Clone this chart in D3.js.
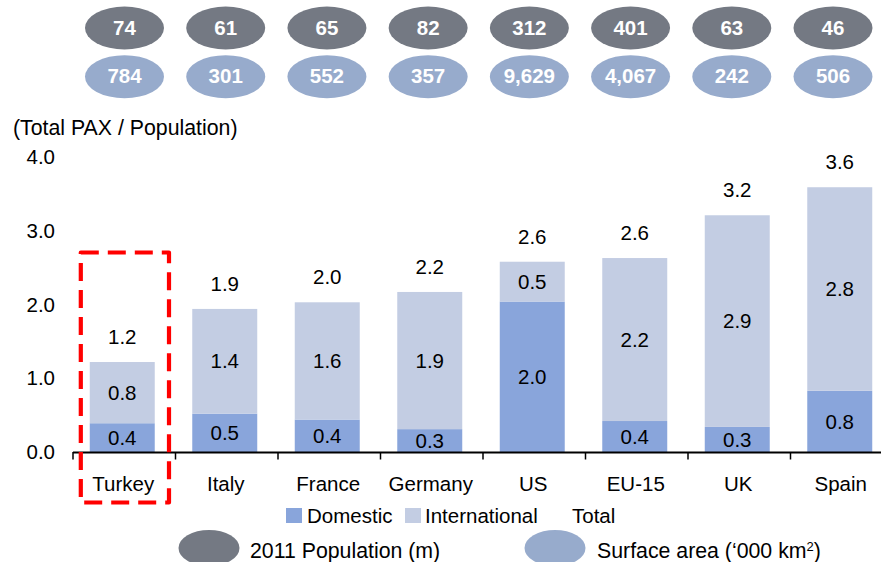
<!DOCTYPE html>
<html>
<head>
<meta charset="utf-8">
<script src="https://cdn.jsdelivr.net/npm/d3@7"></script>
<style>
  html, body { margin: 0; padding: 0; background: #fff; }
  svg text { font-family: "Liberation Sans", Arial, sans-serif; }
</style>
</head>
<body>
<svg id="chart" width="881" height="562"></svg>
<script>
// Air passengers per inhabitant, by market
const categories = ["Turkey", "Italy", "France", "Germany", "US", "EU-15", "UK", "Spain"];
const domestic = [0.39, 0.52, 0.44, 0.31, 2.04, 0.42, 0.34, 0.83];
const international = [0.83, 1.42, 1.59, 1.86, 0.54, 2.21, 2.87, 2.76];
const population = [74, 61, 65, 82, 312, 401, 63, 46];        // 2011, millions
const surfaceArea = [784, 301, 552, 357, 9629, 4067, 242, 506]; // '000 km2
const yTicks = [0, 1, 2, 3, 4];

const colDomestic = "#89a5db";
const colInternational = "#c3cde3";
const colPopulation = "#747983";
const colArea = "#97abcc";
const fs = "20.5px";

const svg = d3.select("#chart");

const rows = categories.map((c, i) => ({
  cat: c, domestic: domestic[i], international: international[i]
}));
const stack = d3.stack().keys(["domestic", "international"])(rows);

// scales
const xCell = d3.scaleBand().domain(categories).range([72, 892]).padding(0);
const x = d3.scaleBand().domain(categories).range([71, 891])
  .paddingInner(0.366).paddingOuter(0.183);
const y = d3.scaleLinear().domain([0, 4]).range([452, 157]);
const xBubble = d3.scalePoint().domain(categories).range([124.5, 833]);
const fmt1 = d3.format(".1f");
const fmtInt = d3.format(",");

// top bubbles: population and surface area
const bubbles = svg.append("g");
[[population, colPopulation, 28], [surfaceArea, colArea, 76.7]].forEach(([vals, col, cy]) => {
  const g = bubbles.selectAll(null).data(categories).enter().append("g")
    .attr("transform", d => `translate(${xBubble(d)},${cy})`);
  g.append("ellipse").attr("rx", 39.5).attr("ry", 21.5).attr("fill", col);
  g.append("text").attr("text-anchor", "middle").attr("dy", "0.35em").attr("y", -0.5)
    .attr("fill", "#fff").attr("font-weight", "bold").attr("font-size", fs)
    .text((d, i) => fmtInt(vals[i]));
});

// y axis title
svg.append("text").attr("x", 13).attr("y", 135).attr("font-size", "21.3px")
  .attr("fill", "#000").text("(Total PAX / Population)");

// y tick labels (no axis line)
svg.append("g").selectAll("text").data(yTicks).enter().append("text")
  .attr("x", 55).attr("y", d => y(d)).attr("dy", "0.35em")
  .attr("text-anchor", "end").attr("font-size", fs).attr("fill", "#000")
  .text(d => fmt1(d));

// stacked bars
const colors = [colDomestic, colInternational];
const layers = svg.append("g").selectAll("g").data(stack).enter().append("g")
  .attr("fill", (d, i) => colors[i]);
layers.selectAll("rect").data(d => d).enter().append("rect")
  .attr("x", d => x(d.data.cat)).attr("width", x.bandwidth())
  .attr("y", d => y(d[1])).attr("height", d => y(d[0]) - y(d[1]));

// segment value labels
layers.selectAll("text").data(d => d.map(s => ({ s, key: d.key }))).enter().append("text")
  .attr("x", d => x(d.s.data.cat) + x.bandwidth() / 2)
  .attr("y", d => (y(d.s[0]) + y(d.s[1])) / 2).attr("dy", "0.35em")
  .attr("text-anchor", "middle").attr("font-size", fs).attr("fill", "#000")
  .text(d => fmt1(d.s.data[d.key]));

// totals above the bars
svg.append("g").selectAll("text").data(rows).enter().append("text")
  .attr("x", d => x(d.cat) + x.bandwidth() / 2)
  .attr("y", d => y(d.domestic + d.international) - 18)
  .attr("text-anchor", "middle").attr("font-size", fs).attr("fill", "#000")
  .text(d => fmt1(d.domestic + d.international));

// x axis
const xAxis = svg.append("g");
xAxis.append("line").attr("x1", 73).attr("x2", 881).attr("y1", y(0) + 0.5).attr("y2", y(0) + 0.5)
  .attr("stroke", "#000").attr("stroke-width", 2);
xAxis.selectAll("line.tick").data(categories).enter().append("line").attr("class", "tick")
  .attr("x1", d => xCell(d) + 1).attr("x2", d => xCell(d) + 1)
  .attr("y1", y(0)).attr("y2", y(0) + 7.5)
  .attr("stroke", "#000").attr("stroke-width", 1.5);
xAxis.selectAll("text").data(categories).enter().append("text")
  .attr("x", d => xCell(d) + xCell.bandwidth() / 2).attr("y", 490.5)
  .attr("text-anchor", "middle").attr("font-size", fs).attr("fill", "#000")
  .text(d => d);

// highlight box around Turkey
const hx0 = xCell("Turkey") + 8.8, hx1 = xCell("Turkey") + 97;
svg.append("path")
  .attr("d", `M${hx0},${252.5}H${hx1}V${502.5}H${hx0}Z`)
  .attr("fill", "none").attr("stroke", "#ff0000").attr("stroke-width", 4.2)
  .attr("stroke-dasharray", "18,9").attr("stroke-linejoin", "round");

// legend: bar series
const leg1 = svg.append("g").attr("font-size", fs).attr("fill", "#000");
leg1.append("rect").attr("x", 286).attr("y", 508).attr("width", 16).attr("height", 15).attr("fill", colDomestic);
leg1.append("text").attr("x", 307).attr("y", 523).text("Domestic");
leg1.append("rect").attr("x", 405).attr("y", 508).attr("width", 16).attr("height", 15).attr("fill", colInternational);
leg1.append("text").attr("x", 425).attr("y", 523).text("International");
leg1.append("text").attr("x", 572).attr("y", 523).text("Total");

// legend: bubbles
const leg2 = svg.append("g").attr("font-size", "21.3px").attr("fill", "#000");
leg2.append("ellipse").attr("cx", 209).attr("cy", 548).attr("rx", 30.5).attr("ry", 18).attr("fill", colPopulation);
leg2.append("text").attr("x", 250).attr("y", 558).text("2011 Population (m)");
leg2.append("ellipse").attr("cx", 555).attr("cy", 548).attr("rx", 30.5).attr("ry", 18).attr("fill", colArea);
const t2 = leg2.append("text").attr("x", 597).attr("y", 558);
t2.append("tspan").text("Surface area (\u2018000 km");
t2.append("tspan").attr("font-size", "13px").attr("dy", "-7").text("2");
t2.append("tspan").attr("dy", "7").text(")");
</script>
</body>
</html>
